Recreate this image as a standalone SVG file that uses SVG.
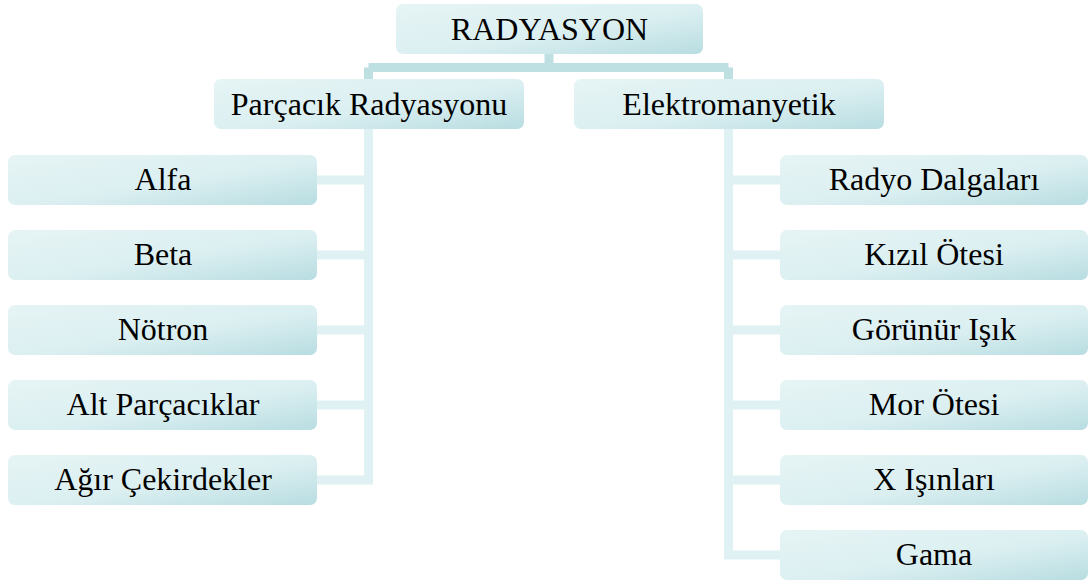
<svg xmlns="http://www.w3.org/2000/svg" width="1088" height="581" viewBox="0 0 1088 581">
<defs>
<linearGradient id="g" x1="0" y1="0" x2="1" y2="1">
<stop offset="0" stop-color="#e6f4f5"/>
<stop offset="0.55" stop-color="#dbeff1"/>
<stop offset="1" stop-color="#b8dde1"/>
</linearGradient>
</defs>
<style>
.box{fill:url(#g);}
.t{font-family:'Liberation Serif','Times New Roman',Times,serif;font-size:32px;fill:#000;text-anchor:middle;}
.c1{stroke:#bfe0e3;stroke-width:9;fill:none;}
.c2{stroke:#dff1f2;stroke-width:9;fill:none;}
</style>
<rect width="1088" height="581" fill="#fff"/>
<g id="connectors">
<path class="c1" d="M549 53 V67.5 M368.5 67.5 H728.5 M368.5 67.5 V80 M728.5 67.5 V80"/>
<path class="c2" d="M368.5 128 V484.5 M317 180 H368.5 M317 255 H368.5 M317 330 H368.5 M317 405 H368.5 M317 480 H368.5"/>
<path class="c2" d="M728.5 128 V559.5 M728.5 180 H780 M728.5 255 H780 M728.5 330 H780 M728.5 405 H780 M728.5 480 H780 M728.5 555 H780"/>
</g>
<g id="n-radyasyon"><rect class="box" x="396" y="4" width="307" height="50" rx="7"/><text class="t" x="549.5" y="40">RADYASYON</text></g>
<g id="n-parcacik"><rect class="box" x="214" y="79" width="310" height="50" rx="7"/><text class="t" x="369" y="115">Parçacık Radyasyonu</text></g>
<g id="n-elektro"><rect class="box" x="574" y="79" width="310" height="50" rx="7"/><text class="t" x="729" y="115">Elektromanyetik</text></g>
<g id="n-alfa"><rect class="box" x="8" y="155" width="309" height="50" rx="7"/><text class="t" x="163" y="190">Alfa</text></g>
<g id="n-beta"><rect class="box" x="8" y="230" width="309" height="50" rx="7"/><text class="t" x="163" y="265">Beta</text></g>
<g id="n-notron"><rect class="box" x="8" y="305" width="309" height="50" rx="7"/><text class="t" x="163" y="340">Nötron</text></g>
<g id="n-alt"><rect class="box" x="8" y="380" width="309" height="50" rx="7"/><text class="t" x="163" y="415">Alt Parçacıklar</text></g>
<g id="n-agir"><rect class="box" x="8" y="455" width="309" height="50" rx="7"/><text class="t" x="163" y="490">Ağır Çekirdekler</text></g>
<g id="n-radyo"><rect class="box" x="780" y="155" width="308" height="50" rx="7"/><text class="t" x="934" y="190">Radyo Dalgaları</text></g>
<g id="n-kizil"><rect class="box" x="780" y="230" width="308" height="50" rx="7"/><text class="t" x="934" y="265">Kızıl Ötesi</text></g>
<g id="n-gorunur"><rect class="box" x="780" y="305" width="308" height="50" rx="7"/><text class="t" x="934" y="340">Görünür Işık</text></g>
<g id="n-mor"><rect class="box" x="780" y="380" width="308" height="50" rx="7"/><text class="t" x="934" y="415">Mor Ötesi</text></g>
<g id="n-x"><rect class="box" x="780" y="455" width="308" height="50" rx="7"/><text class="t" x="934" y="490">X Işınları</text></g>
<g id="n-gama"><rect class="box" x="780" y="530" width="308" height="50" rx="7"/><text class="t" x="934" y="565">Gama</text></g>
</svg>
